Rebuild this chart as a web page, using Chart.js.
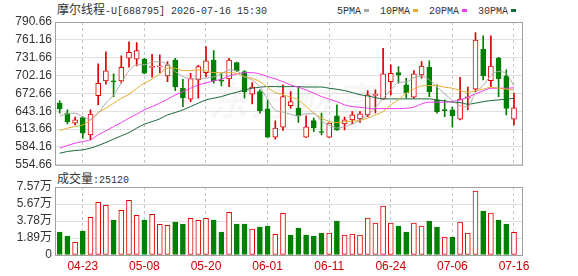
<!DOCTYPE html>
<html>
<head>
<meta charset="utf-8">
<title>摩尔线程-U[688795]</title>
<script src="https://cdn.jsdelivr.net/npm/chart.js@4.4.1/dist/chart.umd.min.js"></script>
<style>
body{margin:0;background:#fff;}
.wrap{position:relative;width:578px;height:276px;overflow:hidden;}
canvas{position:absolute;left:0;}
#kline{top:0;}
#vol{top:175px;}
.cn{font-family:"Noto Sans CJK SC",sans-serif;font-size:12px;}
.en{font-family:"Liberation Mono",monospace;font-size:10px;}
.title{position:absolute;left:57px;top:0;line-height:18px;color:#333;white-space:nowrap;}
.vtitle{position:absolute;left:57px;top:169px;line-height:18px;color:#333;white-space:nowrap;}
.legend{position:absolute;left:337px;top:0;line-height:18px;color:#333;white-space:nowrap;}
.legend i{display:inline-block;width:5px;height:3px;margin:0 11px 0 3px;vertical-align:middle;}
.mark{position:absolute;left:208px;top:70px;font:italic bold 40px "Noto Sans CJK SC",sans-serif;letter-spacing:2px;color:rgba(0,0,0,0.05);white-space:nowrap;}
</style>
</head>
<body>
<div class="wrap">
<div class="mark">东方财富</div>
<div class="title"><span class="cn">摩尔线程</span><span class="en">-U[688795] 2026-07-16 15:30</span></div>
<div class="legend"></div>
<div class="vtitle"></div>
<canvas id="kline" width="578" height="175"></canvas>
<canvas id="vol" width="578" height="101"></canvas>
</div>
<script>
var dates = ['04-20','04-21','04-22','04-23','04-24','04-27','04-28','04-29','04-30','05-06',
    '05-07','05-08','05-11','05-12','05-13','05-14','05-15','05-18','05-19','05-20',
    '05-21','05-22','05-25','05-26','05-27','05-28','05-29','06-01','06-02','06-03',
    '06-04','06-05','06-08','06-09','06-10','06-11','06-12','06-15','06-16','06-17',
    '06-18','06-22','06-23','06-24','06-25','06-26','06-29','06-30','07-01','07-02',
    '07-03','07-06','07-07','07-08','07-09','07-10','07-13','07-14','07-15','07-16'];
var tickDates = ['04-23','05-08','05-20','06-01','06-11','06-24','07-06','07-16'];

var openP = [656.5,640.0,623.5,632.7,604.2,669.0,693.3,692.8,693.3,730.7,
    729.1,729.1,715.8,716.6,701.5,727.9,681.2,663.1,694.9,707.0,
    727.9,694.1,696.6,723.5,708.7,671.3,675.6,647.1,600.4,616.9,
    652.5,648.2,600.4,627.8,609.1,600.4,635.5,622.3,628.9,630.3,
    637.2,669.5,663.1,692.1,707.0,686.7,666.4,703.2,715.9,661.9,
    645.0,645.4,630.1,664.7,679.6,745.6,693.8,730.7,701.5,630.1];
var highP = [660.3,645.4,633.4,634.4,645.4,721.4,741.2,704.8,734.6,757.7,
    756.5,730.7,737.3,736.2,725.2,730.7,696.1,706.0,719.2,749.9,
    743.3,706.0,730.7,724.5,710.3,690.5,678.4,661.9,627.3,686.7,
    675.6,682.9,635.5,631.7,640.0,624.0,653.7,633.4,642.6,642.6,
    677.3,678.4,747.3,719.7,716.9,697.7,710.3,725.2,726.3,686.7,
    661.9,649.9,699.4,682.9,773.0,767.6,767.6,732.4,711.5,673.0];
var lowP = [640.0,622.3,620.6,598.7,595.9,653.7,687.9,667.4,689.5,715.9,
    718.0,705.0,699.4,707.0,692.1,677.3,650.9,659.1,664.7,700.4,
    689.5,685.0,683.9,708.7,664.7,655.3,640.0,600.0,597.1,611.3,
    648.2,624.5,600.0,609.6,604.2,600.0,611.3,612.4,622.3,624.5,
    634.4,640.5,662.5,670.2,689.5,664.7,664.7,697.7,667.4,640.0,
    634.4,616.9,629.0,645.4,675.6,694.9,683.9,667.4,637.2,620.6];
var closeP = [647.1,626.1,628.9,606.9,638.3,689.5,709.8,691.6,715.9,740.7,
    743.3,706.0,716.8,717.5,719.7,683.9,665.7,697.1,716.9,726.3,
    693.3,692.8,727.9,710.3,675.6,682.9,644.3,600.4,615.2,667.4,
    659.1,635.5,617.5,615.5,608.0,623.5,612.4,628.9,637.2,638.8,
    670.2,671.0,704.8,706.0,702.7,674.0,704.8,718.0,675.6,642.6,
    644.3,635.5,663.1,666.9,760.9,701.5,718.0,697.1,648.0,649.0];
// volume in lots
var volume = [25600,21200,14100,26700,41900,58600,55300,39000,49700,60900,
    44200,39000,45300,34100,33000,36700,34500,40800,38600,40800,
    39000,25600,47500,34500,34500,28900,31200,32300,23000,46400,
    22300,30100,22300,21200,24500,24500,37900,22300,23400,22300,
    41200,35600,54500,35600,32300,25600,35600,32300,37900,31200,
    20000,20000,36700,24500,71200,49000,46800,39000,34500,25120];

var ma5 = [635,639,640,634,630,640,657,670,690,710,
    720,720,724.5,725,720.7,708.8,700.7,696.8,696.7,698,
    699.9,705.3,711.4,710.1,700,695,683,662.7,645,642,
    638,635.5,638.9,639,627.1,620,615.4,617.7,622,628.2,
    637.5,649.2,664.4,678.2,690.9,691.7,698.5,701.1,695,683,
    672,661,652.2,650.5,674.1,685.6,702.1,708.9,705.1,685];
var ma10 = [611.3,615.2,617.9,620.6,628.9,641.0,648.2,656.5,664.7,671,
    681,689.5,696.1,704.8,714.5,714.2,710.3,710.3,711.5,709.8,
    707.0,707,707,706,700,697.7,692.1,682.9,674.0,670.6,
    666.4,661.9,650.9,640.0,632,626.1,624.5,626.1,627,628.2,
    631.7,637.2,642.6,653.7,662,673.0,679.6,685.0,685.5,685.5,
    682.9,681.2,677.3,674.6,677,679.6,682.9,681.2,679.6,678.4];
var ma20 = [582.2,586.5,590.4,593.1,595.9,604.2,610.8,617.9,624.5,631.7,
    638.3,645.4,650.9,656.5,663.1,670,675.6,681.2,686.7,690,
    693.3,696.1,701.5,704.8,707.0,707.0,704.8,700.4,696.6,692,
    686.7,682.9,678.4,673,667.4,663.1,659.1,653.7,650.9,649.6,
    648.2,647.5,647.5,647.5,647.5,648.2,649.9,655.3,658.1,658.1,
    658.1,659.1,661.9,666.4,671.8,676.8,681.2,681.2,681.2,682];
var ma30 = [573.9,576.6,578.3,579.4,582.2,586.5,591.5,597.1,602.5,608.0,
    615.2,621.8,626.1,630.6,637.2,641.0,645.4,650.9,656.5,661.9,
    664.7,667.4,671.3,674.6,678.4,681.2,682.9,683.9,683.9,683.6,
    683.9,683.9,683.2,683.2,683.2,681.2,679.5,677.3,674.0,670.5,
    668.5,665.7,663.6,663.6,663.6,663.6,663.6,663.6,663.6,661.9,
    660.3,658.1,657.5,654.8,656.5,659.1,660.8,661.9,663.1,664.5];

var priceTicks = [554.66,584.16,613.66,643.16,672.66,702.16,731.66,761.16,790.66];
var volTicks = [0,18925,37850,56775,75700];
var volTickLabels = ['0','1.89万','3.78万','5.67万','7.57万'];
var maNames = ['5PMA','10PMA','20PMA','30PMA'];
var maColors = ['#aaaaaa','#e6ac2e','#f03cf0','#17683a'];

var RED = '#dd0000';
var GREEN = '#008000';

Chart.defaults.font.family = '"Liberation Sans","Noto Sans CJK SC",sans-serif';
Chart.defaults.font.size = 12;
Chart.defaults.color = '#333';

var tickIdx = tickDates.map(function(d){ return dates.indexOf(d); });

function isUp(i) { return closeP[i] >= openP[i]; }
function volUp(i) { return i == 0 ? isUp(0) : closeP[i] >= closeP[i-1]; }

// legend + volume title
var lg = '';
maNames.forEach(function(n, k){
    lg += '<span class="en">' + n + '</span><i style="background:' + maColors[k] + '"></i>';
});
document.querySelector('.legend').innerHTML = lg;
document.querySelector('.vtitle').innerHTML = '<span class="cn">成交量</span><span class="en">:' + volume[volume.length-1] + '</span>';

// outer frame of the plot area
var framePlugin = {
    id: 'frame',
    beforeDatasetsDraw: function(chart) {
        var a = chart.chartArea, c = chart.ctx;
        c.save();
        c.strokeStyle = '#a0a0a0';
        c.lineWidth = 1;
        c.strokeRect(a.left + 0.5, a.top + 0.5, a.right - a.left, a.bottom - a.top);
        c.restore();
    }
};

var xScale = {
    type: 'linear',
    min: -0.61,
    max: 60.04,
    offset: false,
    grid: { color: '#c4c4c4', drawTicks: false, offset: false },
    border: { display: false, dash: [3, 3] },
    afterBuildTicks: function(s){ s.ticks = tickIdx.map(function(v){ return {value: v}; }); }
};

function maSet(arr, k) {
    return {
        type: 'line',
        data: arr.map(function(v, i){ return {x: i, y: v}; }),
        borderColor: maColors[k],
        borderWidth: 1,
        pointRadius: 0,
        cubicInterpolationMode: 'monotone',
        order: 1
    };
}

var kChart = new Chart(document.getElementById('kline').getContext('2d'), {
    type: 'bar',
    data: {
        datasets: [{
            data: dates.map(function(d, i){ return {x: i, y: [lowP[i], highP[i]]}; }),
            backgroundColor: function(ctx){ return isUp(ctx.dataIndex) ? RED : GREEN; },
            barThickness: 1,
            grouped: false,
            order: 3
        }, {
            data: dates.map(function(d, i){ return {x: i, y: [openP[i], closeP[i]]}; }),
            backgroundColor: function(ctx){ return isUp(ctx.dataIndex) ? '#ffffff' : GREEN; },
            borderColor: function(ctx){ return isUp(ctx.dataIndex) ? RED : GREEN; },
            borderWidth: 1,
            borderSkipped: false,
            minBarLength: 1,
            barThickness: 5,
            grouped: false,
            order: 2
        },
        maSet(ma5, 0), maSet(ma10, 1), maSet(ma20, 2), maSet(ma30, 3)]
    },
    options: {
        responsive: false,
        animation: false,
        layout: { padding: { left: 0, right: 56, top: 22, bottom: 10 } },
        plugins: { legend: { display: false }, tooltip: { enabled: false } },
        scales: {
            x: Object.assign({}, xScale, {
                ticks: { display: false },
                afterFit: function(s){ s.height = 0; }
            }),
            y: {
                min: 554.66,
                max: 790.66,
                grid: { color: '#e0e0e0', drawTicks: false },
                border: { display: false },
                ticks: { padding: 3, autoSkip: false, color: '#333', callback: function(v){ return v.toFixed(2); } },
                afterBuildTicks: function(s){ s.ticks = priceTicks.map(function(v){ return {value: v}; }); },
                afterFit: function(s){ s.width = 55; }
            }
        }
    },
    plugins: [framePlugin]
});

var vChart = new Chart(document.getElementById('vol').getContext('2d'), {
    type: 'bar',
    data: {
        datasets: [{
            data: dates.map(function(d, i){ return {x: i, y: volume[i]}; }),
            backgroundColor: function(ctx){ return volUp(ctx.dataIndex) ? '#ffffff' : GREEN; },
            borderColor: function(ctx){ return volUp(ctx.dataIndex) ? RED : GREEN; },
            borderWidth: 1,
            borderSkipped: false,
            barThickness: 5
        }]
    },
    options: {
        responsive: false,
        animation: false,
        layout: { padding: { left: 0, right: 56, top: 12, bottom: 0 } },
        plugins: { legend: { display: false }, tooltip: { enabled: false } },
        scales: {
            x: Object.assign({}, xScale, {
                ticks: { display: true, padding: 4, color: '#cc0000', autoSkip: false, maxRotation: 0,
                    callback: function(v){ return dates[v]; } },
                afterFit: function(s){ s.height = 21; }
            }),
            y: {
                min: 0,
                max: 75700,
                grid: { color: '#e0e0e0', drawTicks: false },
                border: { display: false },
                ticks: { padding: 3, autoSkip: false, color: '#333',
                    callback: function(v, i){ return volTickLabels[i]; } },
                afterBuildTicks: function(s){ s.ticks = volTicks.map(function(v){ return {value: v}; }); },
                afterFit: function(s){ s.width = 55; }
            }
        }
    },
    plugins: [framePlugin]
});
</script>
</body>
</html>
